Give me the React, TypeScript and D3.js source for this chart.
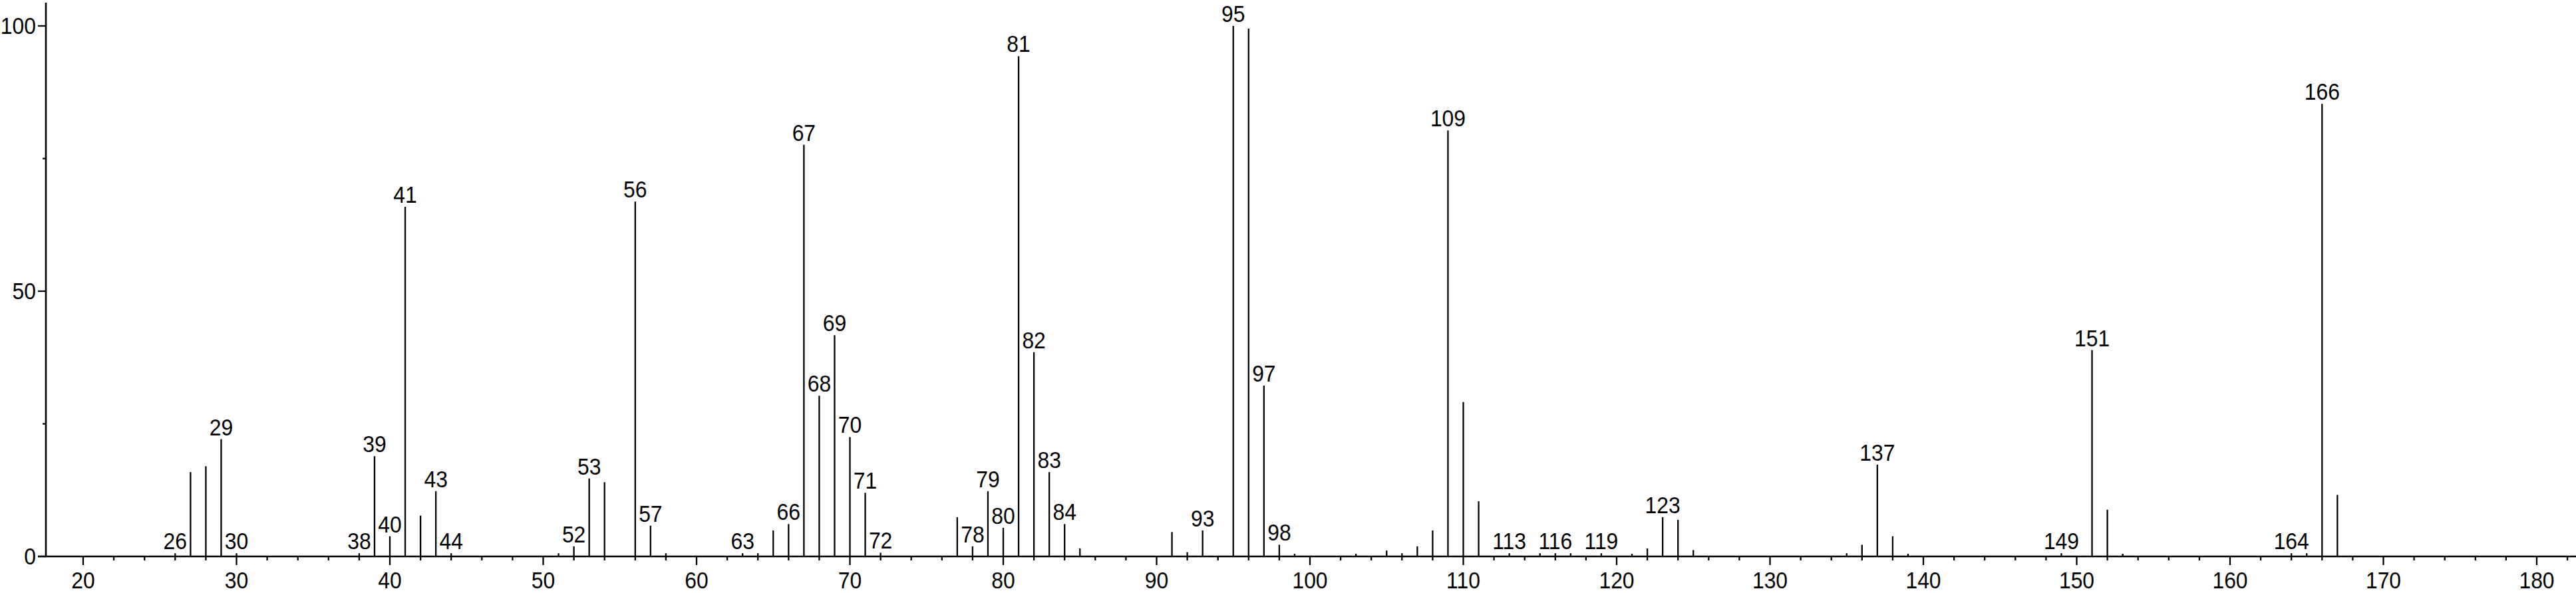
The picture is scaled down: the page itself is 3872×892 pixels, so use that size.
import React from "react";
import * as d3 from "d3";

const mzValues: number[] = [
  26, 27, 28, 29, 30, 38, 39, 40, 41, 42, 43, 44, 51, 52, 53, 54, 56, 57, 58, 63, 64, 65, 66, 67, 68, 69, 70, 71, 72,
  77, 78, 79, 80, 81, 82, 83, 84, 85, 91, 92, 93, 95, 96, 97, 98, 99, 103, 105, 106, 107, 108, 109, 110, 111, 113,
  115, 116, 117, 119, 121, 122, 123, 124, 125, 135, 136, 137, 138, 139, 149, 151, 152, 153, 164, 165, 166, 167,
];
const intensities: number[] = [
  0.6, 15.9, 17.0, 22.1, 0.6, 0.6, 18.9, 3.8, 65.9, 7.7, 12.3, 0.6, 0.6, 1.9, 14.7, 14.0, 66.9, 5.8, 0.6, 0.6, 0.6, 4.9,
  6.1, 77.6, 30.3, 41.7, 22.5, 12.0, 0.7, 7.4, 1.9, 12.3, 5.4, 94.3, 38.5, 15.9, 6.1, 1.5, 4.6, 0.8, 4.9, 100, 99.5,
  32.2, 2.2, 0.5, 0.5, 1.1, 0.6, 1.9, 4.9, 80.3, 29.1, 10.4, 0.6, 0.6, 0.6, 0.6, 0.6, 0.5, 1.5, 7.4, 6.9, 1.2, 0.6, 2.2,
  17.3, 3.8, 0.5, 0.6, 38.9, 8.8, 0.5, 0.6, 0.6, 85.3, 11.6,
];
const labeledMz: number[] = [
  26, 29, 30, 38, 39, 40, 41, 43, 44, 52, 53, 56, 57, 63, 66, 67, 68, 69, 70, 71, 72, 78, 79, 80, 81, 82, 83, 84, 93,
  95, 97, 98, 109, 113, 116, 119, 123, 137, 149, 151, 164, 166,
];
const xMajorTicks: number[] = [20, 30, 40, 50, 60, 70, 80, 90, 100, 110, 120, 130, 140, 150, 160, 170, 180];
const yMajorTicks: number[] = [0, 50, 100];
const yMinorTicks: number[] = [25, 75];

const W = 3872;
const H = 892;
const FONT = "'Liberation Sans', Arial, Helvetica, sans-serif";
const FS = 35;
const SX = 0.91;

export default function App() {
  const x = d3.scaleLinear().domain([20, 180]).range([125, 3813]);
  const y = d3.scaleLinear().domain([0, 100]).range([837, 39]);
  const axisX = 69;
  const axisY = y(0);
  const minorX = d3.range(20, 183, 2).filter((v) => v % 10 !== 0);

  const Txt = ({ tx, ty, anchor, children }: any) => (
    <text
      transform={`translate(${tx},${ty}) scale(${SX},1)`}
      textAnchor={anchor}
      fontFamily={FONT}
      fontSize={FS}
      fill="#000"
    >
      {children}
    </text>
  );

  return (
    <svg
      width={W}
      height={H}
      style={{ position: "absolute", left: 0, top: 0, background: "#fff" }}
    >
      <rect x={0} y={0} width={W} height={H} fill="#fff" />
      {mzValues.map((m, i) => (
        <line
          key={`p${m}`}
          x1={x(m)}
          x2={x(m)}
          y1={axisY}
          y2={y(intensities[i])}
          stroke="#000"
          strokeWidth={2.3}
        />
      ))}
      {mzValues.map((m, i) =>
        labeledMz.includes(m) ? (
          <Txt key={`l${m}`} tx={x(m)} ty={y(intensities[i]) - 6} anchor="middle">
            {m}
          </Txt>
        ) : null
      )}
      <line x1={57} x2={W} y1={axisY} y2={axisY} stroke="#000" strokeWidth={2.6} />
      {minorX.map((v) => (
        <line key={`mx${v}`} x1={x(v)} x2={x(v)} y1={axisY} y2={axisY + 6} stroke="#000" strokeWidth={2.3} />
      ))}
      {xMajorTicks.map((v) => (
        <g key={`Mx${v}`}>
          <line x1={x(v)} x2={x(v)} y1={axisY} y2={axisY + 13} stroke="#000" strokeWidth={2.3} />
          <Txt tx={x(v)} ty={885} anchor="middle">
            {v}
          </Txt>
        </g>
      ))}
      <line x1={axisX} x2={axisX} y1={4} y2={axisY + 1} stroke="#000" strokeWidth={2.6} />
      {yMajorTicks.map((v) => (
        <g key={`My${v}`}>
          <line x1={axisX - 12} x2={axisX} y1={y(v)} y2={y(v)} stroke="#000" strokeWidth={2.3} />
          <Txt tx={54} ty={y(v) + 12} anchor="end">
            {v}
          </Txt>
        </g>
      ))}
      {yMinorTicks.map((v) => (
        <line key={`my${v}`} x1={axisX - 5} x2={axisX} y1={y(v)} y2={y(v)} stroke="#000" strokeWidth={2.3} />
      ))}
    </svg>
  );
}
